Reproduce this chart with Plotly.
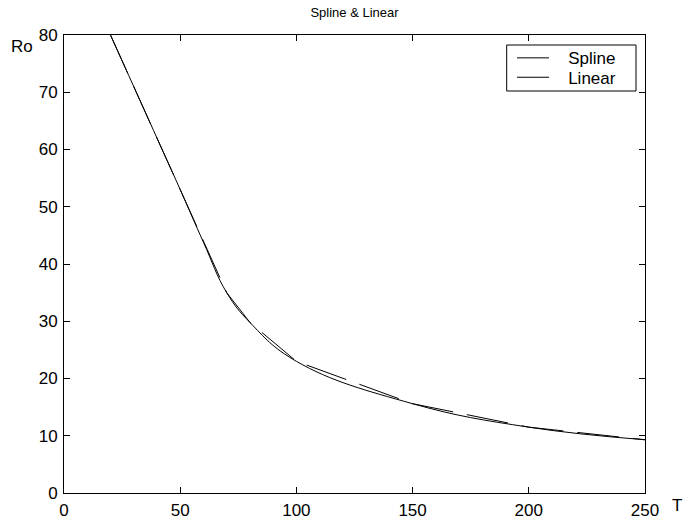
import plotly.graph_objects as go

# Data
T = [20, 30, 40, 50, 60, 70, 80, 100, 150, 200, 250]
Ro = [80.0, 71.0, 62.0, 53.0, 43.8, 35.0, 29.8, 23.0, 15.6, 11.5, 9.3]

x_ticks = [0, 50, 100, 150, 200, 250]
y_ticks = [0, 10, 20, 30, 40, 50, 60, 70, 80]

FONT = "Liberation Sans, Arial, Helvetica, sans-serif"

# plot-area geometry in pixels (used only for placing text/legend in paper coords)
L, R, TOP, BOT = 64, 645, 35, 493
PW, PH = R - L, BOT - TOP


def px(xp):
    return (xp - L) / PW


def py(yp):
    return (BOT - yp) / PH


NB = "\u00a0"

fig = go.Figure()
fig.add_trace(go.Scatter(
    x=T, y=Ro, mode="lines", name=NB * 3 + "Spline", legend="legend",
    line=dict(color="black", width=1, shape="spline", smoothing=1.2),
))
fig.add_trace(go.Scatter(
    x=T, y=Ro, mode="lines", name=NB * 3 + "Linear", legend="legend2",
    line=dict(color="black", width=1, dash="42px,14px"),
))

axis_common = dict(
    showline=True, linecolor="black", linewidth=1, mirror="allticks",
    ticks="inside", ticklen=6, tickwidth=1, tickcolor="black",
    showgrid=False, zeroline=False,
    tickfont=dict(family=FONT, size=17, color="black"),
)

fig.update_xaxes(range=[0, 250], tickvals=x_ticks, ticktext=[str(v) for v in x_ticks],
                 ticklabelstandoff=2, **axis_common)
fig.update_yaxes(range=[0, 80], tickvals=y_ticks, ticktext=[str(v) for v in y_ticks],
                 ticklabelstandoff=2, **axis_common)

leg_common = dict(xanchor="left", yanchor="middle", bgcolor="rgba(0,0,0,0)",
                  borderwidth=0, font=dict(family=FONT, size=17, color="black"),
                  itemwidth=32, tracegroupgap=0)

fig.update_layout(
    width=689, height=520,
    margin=dict(l=L, r=689 - R, t=TOP, b=520 - BOT, autoexpand=False),
    paper_bgcolor="white", plot_bgcolor="white",
    title=dict(text="Spline &amp; Linear", x=(354.5) / 689, xanchor="center", y=1 - 12 / 520,
               yanchor="middle", font=dict(family=FONT, size=13, color="black")),
    legend=dict(x=px(512), y=py(58.3), **leg_common),
    legend2=dict(x=px(512), y=py(77.7), **leg_common),
    showlegend=True,
    shapes=[
        dict(type="rect", xref="paper", yref="paper", x0=px(506.7), x1=px(636),
             y0=py(91), y1=py(45), line=dict(color="black", width=1),
             fillcolor="white", layer="above"),
    ],
    annotations=[
        dict(text="Ro", xref="paper", yref="paper", x=px(21.5), y=py(46.5),
             xanchor="center", yanchor="middle", showarrow=False,
             font=dict(family=FONT, size=17, color="black")),
        dict(text="T", xref="paper", yref="paper", x=px(677), y=py(505),
             xanchor="center", yanchor="middle", showarrow=False,
             font=dict(family=FONT, size=17, color="black")),
    ],
)

fig.write_html("out.html", config={"displayModeBar": False},
               post_script="document.body.style.margin='0px';")
